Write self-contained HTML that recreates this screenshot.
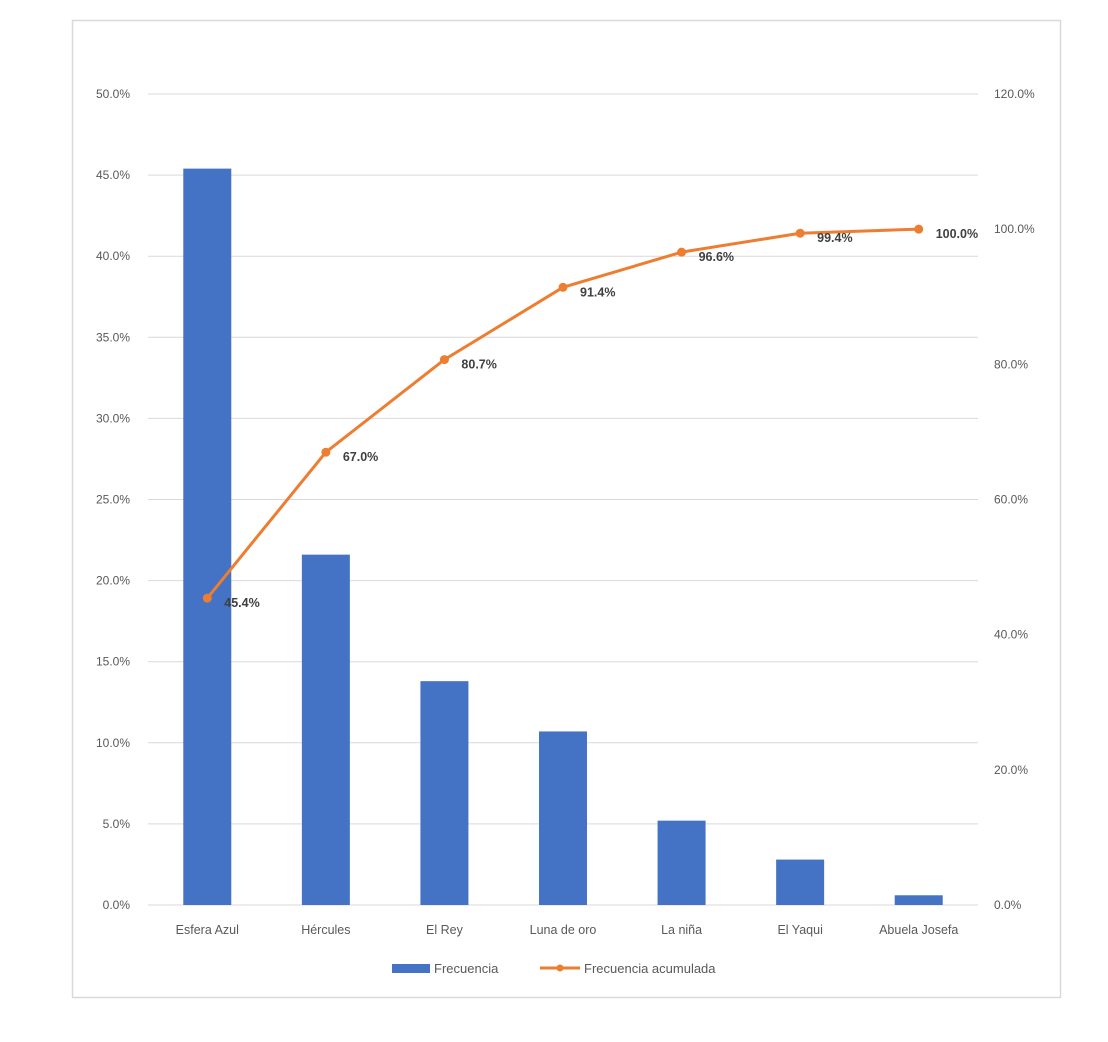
<!DOCTYPE html>
<html><head><meta charset="utf-8"><style>
html,body{margin:0;padding:0;background:#fff;}
svg{display:block;font-family:"Liberation Sans",sans-serif;}
</style></head><body>
<svg id="chart" width="1108" height="1042" viewBox="0 0 1108 1042" xmlns="http://www.w3.org/2000/svg">
<rect x="72.5" y="20.5" width="988" height="977" fill="#fff" stroke="#d9d9d9" stroke-width="1.5"/>
<g id="grid"></g><g id="bars"></g><g id="line"></g><g id="labels"></g>
<g>
<rect x="392" y="964" width="38" height="9" fill="#4472c4"/>
<text x="434" y="973" font-size="13" fill="#595959">Frecuencia</text>
<line x1="540" y1="968" x2="580" y2="968" stroke="#ed7d31" stroke-width="3"/>
<circle cx="560" cy="968" r="3.5" fill="#ed7d31"/>
<text x="584" y="973" font-size="13" fill="#595959">Frecuencia acumulada</text>
</g>
</svg>
<script>
const categories=["Esfera Azul","Hércules","El Rey","Luna de oro","La niña","El Yaqui","Abuela Josefa"];
const frecuencia=[45.4,21.6,13.8,10.7,5.2,2.8,0.6];
const acumulada=[45.4,67.0,80.7,91.4,96.6,99.4,100.0];
const leftTicks=[0,5,10,15,20,25,30,35,40,45,50];
const rightTicks=[0,20,40,60,80,100,120];
const NS="http://www.w3.org/2000/svg";
const x0=148,x1=978,y0=905,y1=94;
const step=(x1-x0)/categories.length;
const xc=i=>x0+step*(i+0.5);
const yL=v=>y0-(v/50)*(y0-y1);
const yR=v=>y0-(v/120)*(y0-y1);
function mk(tag,attrs,parent){const e=document.createElementNS(NS,tag);for(const k in attrs)e.setAttribute(k,attrs[k]);document.getElementById(parent).appendChild(e);return e;}
leftTicks.forEach(t=>{
 const l=mk('line',{x1:x0,x2:x1,y1:yL(t),y2:yL(t),stroke:'#d9d9d9','stroke-width':1},'grid');
 
 
 const tx=mk('text',{x:130,y:yL(t)+4,'text-anchor':'end','font-size':12,fill:'#595959'},'grid');
 
 
 tx.textContent=t.toFixed(1)+'%';
});
rightTicks.forEach(t=>{
 const tx=mk('text',{x:994,y:yR(t)+4,'font-size':12,fill:'#595959'},'grid');
 
 
 tx.textContent=t.toFixed(1)+'%';
});
categories.forEach((c,i)=>{
 const b=mk('rect',{x:xc(i)-24,y:yL(frecuencia[i]),width:48,height:y0-yL(frecuencia[i]),fill:'#4472c4'},'bars');
 
 
 const tx=mk('text',{x:xc(i),y:934,'text-anchor':'middle','font-size':12.5,fill:'#595959'},'labels');
 
 
 tx.textContent=c;
});
const pts=acumulada.map((v,i)=>xc(i)+','+yR(v)).join(' ');
const pl=mk('polyline',{points:pts,fill:'none',stroke:'#ed7d31','stroke-width':3,'stroke-linejoin':'round'},'line');


acumulada.forEach((v,i)=>{
 const c=mk('circle',{cx:xc(i),cy:yR(v),r:4.5,fill:'#ed7d31'},'line');
 
 
 const tx=mk('text',{x:xc(i)+17,y:yR(v)+9,'font-size':12.5,'font-weight':'bold',fill:'#404040'},'labels');
 
 
 tx.textContent=v.toFixed(1)+'%';
});
</script>
</body></html>
